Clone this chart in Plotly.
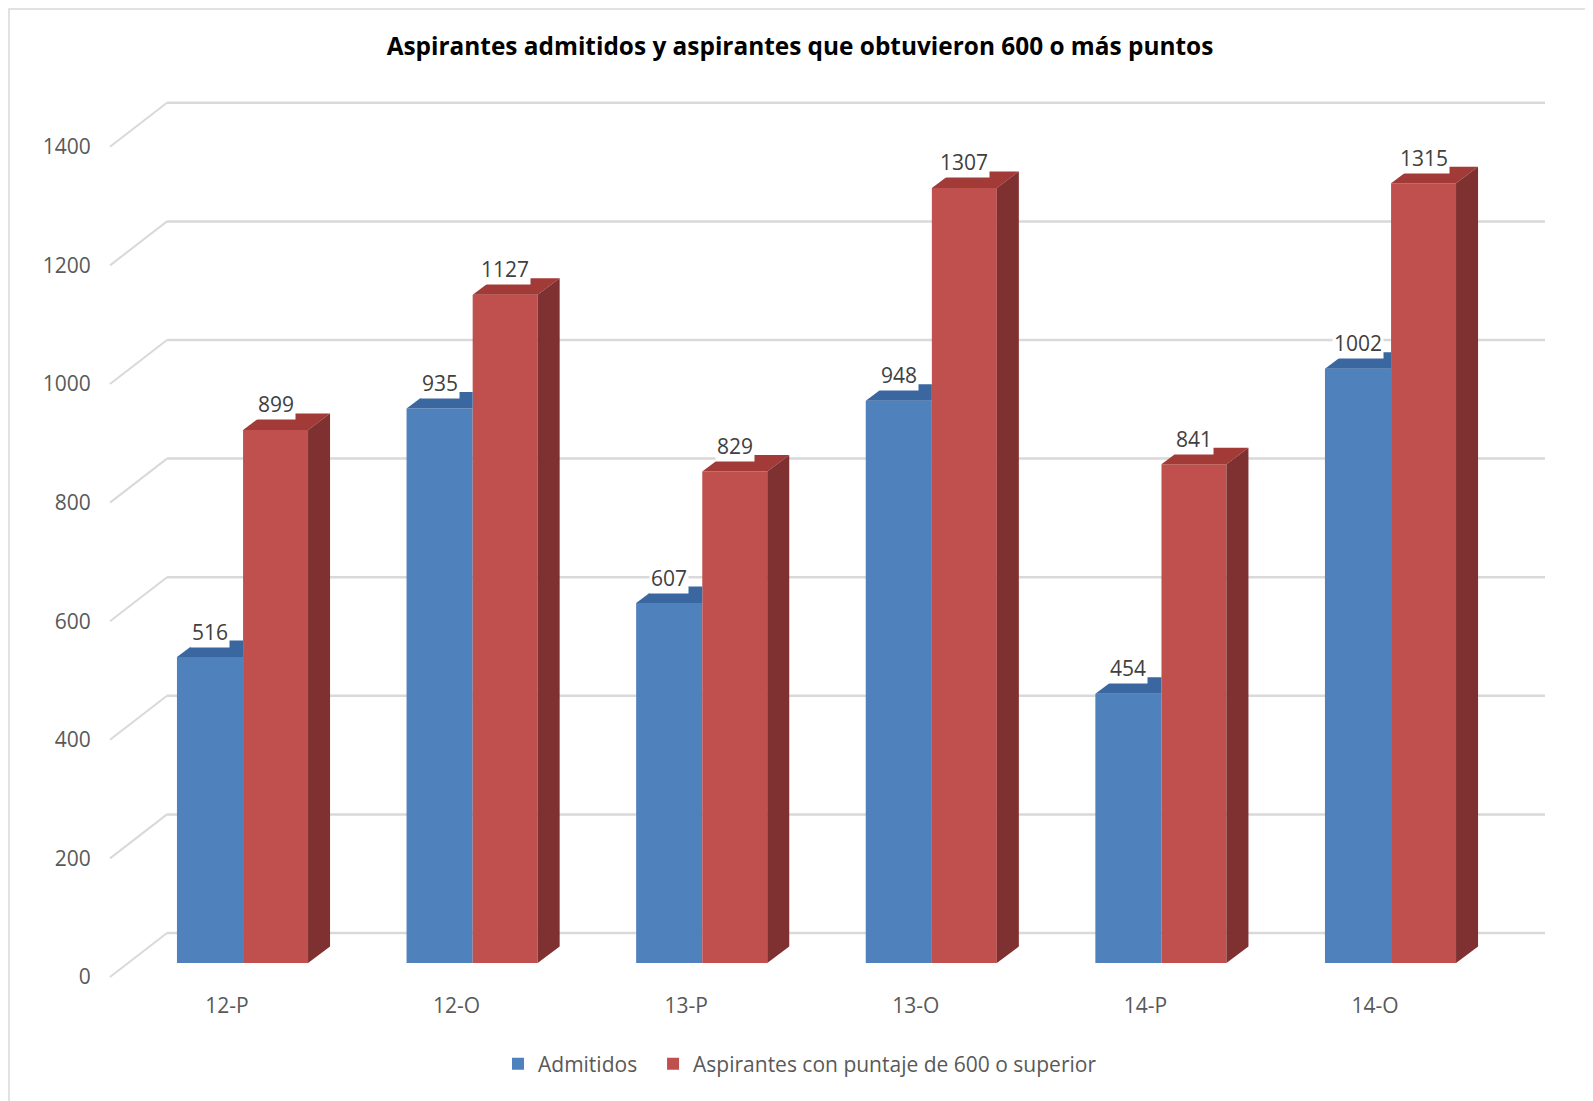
import plotly.graph_objects as go

# ---- data ----
categories = ["12-P", "12-O", "13-P", "13-O", "14-P", "14-O"]
admitidos = [516, 935, 607, 948, 454, 1002]
aspirantes_600 = [899, 1127, 829, 1307, 841, 1315]
y_ticks = [0, 200, 400, 600, 800, 1000, 1200, 1400]

series_names = ["Admitidos", "Aspirantes con puntaje de 600 o superior"]

# ---- styling / pseudo-3D geometry ----
BLUE, BLUE_TOP = "#4f81bd", "#3b67a0"
RED, RED_TOP, RED_SIDE = "#c0504d", "#a23a37", "#7f3030"
GRID = "#d9d9d9"

OFF = 8                       # page body margin
W, H = 1593 - OFF, 1101 - OFF  # figure size
ML, MR, MT, MB = 92, 25, 72, 116
PX_X = 229.6          # px per category
PX_Y = 0.593          # px per unit value
X0_PX = 227 - OFF     # category 0 label center (figure px)
Y0_PX = 963 - OFF     # value 0 on front face (figure px)

x_lo = (ML - X0_PX) / PX_X
x_hi = (W - MR - X0_PX) / PX_X
y_lo = (Y0_PX - (H - MB)) / PX_Y
y_hi = (Y0_PX - MT) / PX_Y
PW, PH = W - ML - MR, H - MT - MB

b_off, b_w = -0.218, 0.288      # blue bar offset / width
r_off, r_w = 0.070, 0.283       # red bar offset / width
DX = 22 / PX_X                  # depth offset x
DY = 16.5 / PX_Y                # depth offset y
WALL_DX = 57 / PX_X             # floor depth to back wall
WALL_DY = 44 / PX_Y
LABEL_DY = 14 / PX_Y            # tick labels sit below front plane
X_LEFT = (110 - OFF - X0_PX) / PX_X
X_RIGHT = (1545 - OFF - X0_PX) / PX_X

xs = list(range(len(categories)))
fig = go.Figure()

fig.add_trace(go.Bar(x=xs, y=admitidos, name=series_names[0] + "\u00a0\u00a0", offset=b_off, width=b_w,
                     marker=dict(color=BLUE, line=dict(width=0)), hoverinfo="skip"))
fig.add_trace(go.Bar(x=xs, y=aspirantes_600, name=series_names[1], offset=r_off, width=r_w,
                     marker=dict(color=RED, line=dict(width=0)), hoverinfo="skip"))

# top / side faces built from the values
bt_x, bt_y, rt_x, rt_y, rs_x, rs_y = [], [], [], [], [], []
for i, (a, r) in enumerate(zip(admitidos, aspirantes_600)):
    xl, xr = i + b_off, i + b_off + b_w
    bt_x += [xl, xl + DX, xr, xr, xl, None]
    bt_y += [a, a + DY, a + DY, a, a, None]
    xl, xr = i + r_off, i + r_off + r_w
    rt_x += [xl, xl + DX, xr + DX, xr, xl, None]
    rt_y += [r, r + DY, r + DY, r, r, None]
    rs_x += [xr, xr, xr + DX, xr + DX, xr, None]
    rs_y += [0, r, r + DY, DY, 0, None]

for px, py, col in [(bt_x, bt_y, BLUE_TOP), (rt_x, rt_y, RED_TOP), (rs_x, rs_y, RED_SIDE)]:
    fig.add_trace(go.Scatter(x=px, y=py, mode="lines", fill="toself", fillcolor=col,
                             line=dict(width=0, color=col), showlegend=False, hoverinfo="skip"))

# back wall gridlines + floor diagonals (below traces)
shapes = []
for g in y_ticks:
    shapes.append(dict(type="line", xref="x", yref="y", layer="below",
                       x0=X_LEFT, y0=g - LABEL_DY, x1=X_LEFT + WALL_DX, y1=g - LABEL_DY + WALL_DY,
                       line=dict(color=GRID, width=2)))
    shapes.append(dict(type="line", xref="x", yref="y", layer="below",
                       x0=X_LEFT + WALL_DX, y0=g - LABEL_DY + WALL_DY, x1=X_RIGHT, y1=g - LABEL_DY + WALL_DY,
                       line=dict(color=GRID, width=2.5)))
# chart border
shapes.append(dict(type="rect", xref="paper", yref="paper", layer="below",
                   x0=(1 - ML) / PW, x1=(1582 - ML) / PW,
                   y0=-0.3, y1=((H - MB) - 1) / PH,
                   line=dict(color="#d9d9d9", width=1.5)))

# data labels
annotations = []
for i, (a, r) in enumerate(zip(admitidos, aspirantes_600)):
    for v, off, w in [(a, b_off, b_w), (r, r_off, r_w)]:
        annotations.append(dict(x=i + off + w / 2, y=v + DY, xref="x", yref="y",
                                text=str(v), showarrow=False, yanchor="bottom", yshift=-7,
                                bgcolor="white", borderpad=1,
                                font=dict(size=21, color="#404040")))

FONT = "Open Sans, Lato, sans-serif"
fig.update_layout(
    width=W, height=H,
    margin=dict(l=ML, r=MR, t=MT, b=MB),
    paper_bgcolor="white", plot_bgcolor="white",
    font=dict(family=FONT, color="#595959", size=21),
    barmode="overlay",
    title=dict(text="<b>Aspirantes admitidos y aspirantes que obtuvieron 600 o más puntos</b>",
               x=(800 - OFF) / W, xref="container", y=1 - (46 - OFF) / H, yanchor="middle",
               xanchor="center", font=dict(family=FONT, size=24.4, color="#000000")),
    xaxis=dict(range=[x_lo, x_hi], tickvals=xs, ticktext=categories, showgrid=False,
               zeroline=False, showline=False, ticks="outside", ticklen=2,
               tickcolor="rgba(0,0,0,0)", tickfont=dict(size=21, color="#595959"), fixedrange=True),
    yaxis=dict(range=[y_lo, y_hi], tickvals=[g - LABEL_DY for g in y_ticks],
               ticktext=[str(g) for g in y_ticks], showgrid=False, zeroline=False,
               showline=False, ticks="outside", ticklen=4, tickcolor="rgba(0,0,0,0)",
               tickfont=dict(size=21, color="#595959"), fixedrange=True),
    legend=dict(orientation="h", x=(800 - OFF - ML) / PW, xanchor="center",
                y=-(1064 - OFF - (H - MB)) / PH, yanchor="middle",
                font=dict(size=21, color="#595959"), itemclick=False),
    shapes=shapes, annotations=annotations,
)

fig.write_html("out.html")
